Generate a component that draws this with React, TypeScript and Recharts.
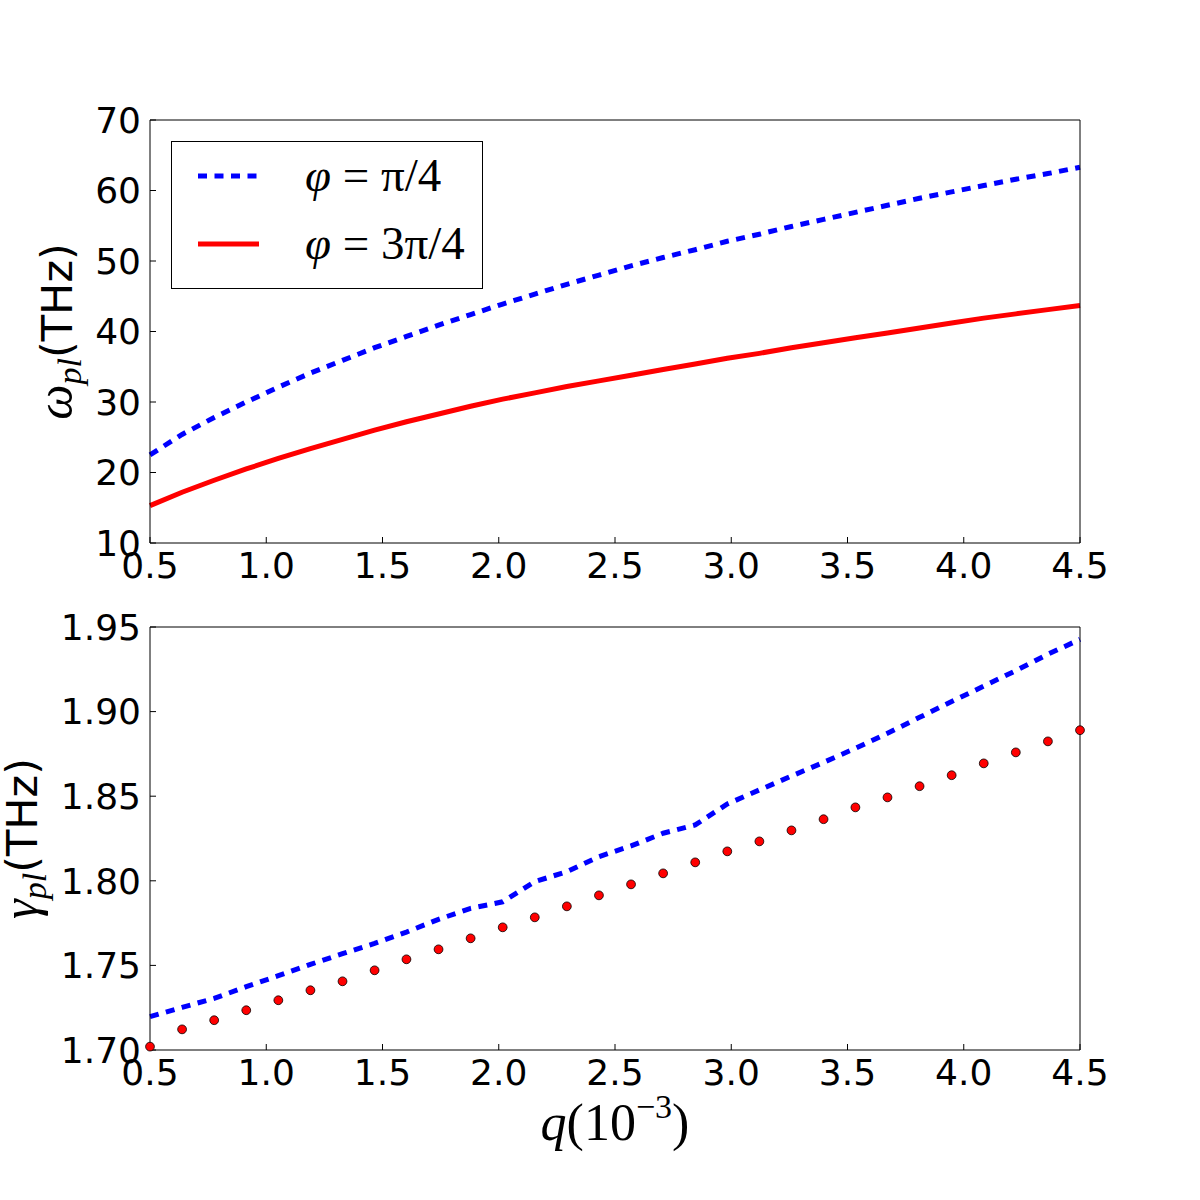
import React from 'react'
import { LineChart, Line, XAxis, YAxis, Legend } from 'recharts'

// q in units of 1e-3, 30 samples shared by every series
const qValues = [
  0.5, 0.638, 0.776, 0.914, 1.052, 1.19, 1.328, 1.466, 1.603, 1.741,
  1.879, 2.017, 2.155, 2.293, 2.431, 2.569, 2.707, 2.845, 2.983, 3.121,
  3.259, 3.397, 3.534, 3.672, 3.81, 3.948, 4.086, 4.224, 4.362, 4.5,
]

// plasmon frequency omega_pl (THz)
const omegaQuarter = [
  22.5, 25.4, 27.8, 30.0, 32.1, 34.1, 35.9, 37.7, 39.3, 40.9,
  42.4, 43.9, 45.3, 46.7, 48.0, 49.3, 50.5, 51.6, 52.8, 53.8,
  54.9, 55.9, 56.9, 57.9, 58.9, 59.8, 60.7, 61.6, 62.4, 63.3,
]
const omegaThreeQuarter = [
  15.3, 17.2, 18.9, 20.5, 22.0, 23.4, 24.7, 26.0, 27.2, 28.3,
  29.4, 30.4, 31.3, 32.2, 33.0, 33.8, 34.6, 35.4, 36.2, 36.9,
  37.7, 38.4, 39.1, 39.8, 40.5, 41.2, 41.9, 42.5, 43.1, 43.7,
]

// damping gamma_pl (THz)
const gammaQuarter = [
  1.7197, 1.7252, 1.7305, 1.7374, 1.7439, 1.7506, 1.7569, 1.763, 1.7697, 1.7772,
  1.7837, 1.7876, 1.7995, 1.8054, 1.8143, 1.8206, 1.8281, 1.833, 1.8454, 1.8537,
  1.8619, 1.87, 1.8783, 1.8872, 1.8966, 1.9059, 1.9151, 1.9242, 1.9339, 1.9427,
]
const gammaThreeQuarter = [
  1.702, 1.7122, 1.7176, 1.7235, 1.7294, 1.7353, 1.7406, 1.7471, 1.7536, 1.7595,
  1.766, 1.7725, 1.7784, 1.7849, 1.7914, 1.7979, 1.8044, 1.8109, 1.8174, 1.8233,
  1.8298, 1.8364, 1.8434, 1.8493, 1.8559, 1.8624, 1.8694, 1.8759, 1.8824, 1.889,
]

const qTicks = [0.5, 1.0, 1.5, 2.0, 2.5, 3.0, 3.5, 4.0, 4.5]
const omegaTicks = [10, 20, 30, 40, 50, 60, 70]
const gammaTicks = [1.7, 1.75, 1.8, 1.85, 1.9, 1.95]

const BLUE = '#0000ff'
const RED = '#ff0000'
const DASH = '9 7.5'
const MATH_FONT = 'Liberation Serif'

const omegaData = qValues.map((q, i) => ({
  q,
  quarter: omegaQuarter[i],
  threeQuarter: omegaThreeQuarter[i],
}))
const gammaData = qValues.map((q, i) => ({
  q,
  quarter: gammaQuarter[i],
  threeQuarter: gammaThreeQuarter[i],
}))

const legendItems = [
  { key: 'quarter', label: 'π/4', color: BLUE, dash: DASH },
  { key: 'threeQuarter', label: '3π/4', color: RED, dash: undefined },
]

const tickFont = { fill: '#000', fontSize: 36, fontFamily: 'DejaVu Sans' }
const axisStroke = { stroke: '#000', strokeWidth: 1 }

function RotatedTitle(props: any) {
  const { viewBox, symbol, baseX } = props
  const cx = viewBox.x + baseX
  const cy = viewBox.y + viewBox.height / 2
  return (
    <text x={cx} y={cy} transform={`rotate(-90 ${cx} ${cy})`} textAnchor="middle" fill="#000">
      <tspan fontFamily={MATH_FONT} fontStyle="italic" fontSize={50}>{symbol}</tspan>
      <tspan fontFamily={MATH_FONT} fontStyle="italic" fontSize={34} dy={9}>pl</tspan>
      <tspan fontFamily="DejaVu Sans" fontSize={43} dy={-9}>(THz)</tspan>
    </text>
  )
}

function QTitle(props: any) {
  const { viewBox } = props
  const cx = viewBox.x + viewBox.width / 2
  const y = viewBox.y + 90
  return (
    <text x={cx} y={y} textAnchor="middle" fill="#000" fontFamily={MATH_FONT} fontSize={52}>
      <tspan fontStyle="italic">q</tspan>
      <tspan>(10</tspan>
      <tspan fontSize={34} dy={-22}>−3</tspan>
      <tspan dy={22}>)</tspan>
    </text>
  )
}

function PhiLegend() {
  return (
    <svg width={312} height={148} style={{ display: 'block' }}>
      <rect x={0.5} y={0.5} width={311} height={147} fill="#fff" stroke="#000" strokeWidth={1} />
      {legendItems.map((item, i) => {
        const y = 35 + i * 68
        return (
          <g key={item.key}>
            <line x1={27} x2={88} y1={y} y2={y} stroke={item.color} strokeWidth={5} strokeDasharray={item.dash} />
            <text x={134} y={y + 15} fontFamily={MATH_FONT} fontSize={47} fill="#000">
              <tspan fontStyle="italic">φ</tspan>
              <tspan> = {item.label}</tspan>
            </text>
          </g>
        )
      })}
    </svg>
  )
}

export default function App() {
  return (
    <div style={{ width: 1200, height: 1200, background: '#fff', position: 'relative' }}>
      <style>{'body{margin:0}'}</style>

      <LineChart width={1200} height={600} data={omegaData} margin={{ top: 119, right: 119, bottom: 0, left: 0 }}>
        <XAxis
          dataKey="q" type="number" domain={[0.5, 4.5]} ticks={qTicks} interval={0}
          height={57} tickSize={-6} tickMargin={15} tick={tickFont}
          tickFormatter={(v: number) => v.toFixed(1)}
          axisLine={axisStroke} tickLine={axisStroke}
        />
        <XAxis
          xAxisId="top" orientation="top" type="number" domain={[0.5, 4.5]} ticks={qTicks} interval={0}
          height={1} tickSize={-6} tick={false} axisLine={axisStroke} tickLine={axisStroke}
        />
        <YAxis
          type="number" domain={[10, 70]} ticks={omegaTicks} interval={0} width={150}
          tickSize={-6} tickMargin={15} tick={tickFont}
          axisLine={axisStroke} tickLine={axisStroke}
          label={<RotatedTitle symbol="ω" baseX={72} />}
        />
        <YAxis
          yAxisId="right" orientation="right" type="number" domain={[10, 70]} ticks={omegaTicks} interval={0}
          width={1} tickSize={-6} tick={false} axisLine={axisStroke} tickLine={axisStroke}
        />
        <Legend
          layout="vertical" align="center" verticalAlign="middle"
          wrapperStyle={{ top: 141, left: 171, width: 312, height: 148 }}
          content={() => <PhiLegend />}
        />
        <Line
          type="linear" dataKey="quarter" stroke={BLUE} strokeWidth={5} strokeDasharray={DASH}
          dot={false} activeDot={false} isAnimationActive={false}
        />
        <Line
          type="linear" dataKey="threeQuarter" stroke={RED} strokeWidth={5}
          dot={false} activeDot={false} isAnimationActive={false}
        />
      </LineChart>

      <LineChart width={1200} height={600} data={gammaData} margin={{ top: 26, right: 119, bottom: 0, left: 0 }}>
        <XAxis
          dataKey="q" type="number" domain={[0.5, 4.5]} ticks={qTicks} interval={0}
          height={150} tickSize={-6} tickMargin={15} tick={tickFont}
          tickFormatter={(v: number) => v.toFixed(1)}
          axisLine={axisStroke} tickLine={axisStroke}
          label={<QTitle />}
        />
        <XAxis
          xAxisId="top" orientation="top" type="number" domain={[0.5, 4.5]} ticks={qTicks} interval={0}
          height={1} tickSize={-6} tick={false} axisLine={axisStroke} tickLine={axisStroke}
        />
        <YAxis
          type="number" domain={[1.7, 1.95]} ticks={gammaTicks} interval={0} width={150}
          tickSize={-6} tickMargin={15} tick={tickFont}
          tickFormatter={(v: number) => v.toFixed(2)}
          axisLine={axisStroke} tickLine={axisStroke}
          label={<RotatedTitle symbol="γ" baseX={37} />}
        />
        <YAxis
          yAxisId="right" orientation="right" type="number" domain={[1.7, 1.95]} ticks={gammaTicks} interval={0}
          width={1} tickSize={-6} tick={false} axisLine={axisStroke} tickLine={axisStroke}
        />
        <Line
          type="linear" dataKey="quarter" stroke={BLUE} strokeWidth={5} strokeDasharray={DASH}
          dot={false} activeDot={false} isAnimationActive={false}
        />
        <Line
          type="linear" dataKey="threeQuarter" stroke="none" strokeWidth={0}
          dot={{ r: 4.4, fill: RED, stroke: '#000', strokeWidth: 0.8 }}
          activeDot={false} isAnimationActive={false}
        />
      </LineChart>
    </div>
  )
}
